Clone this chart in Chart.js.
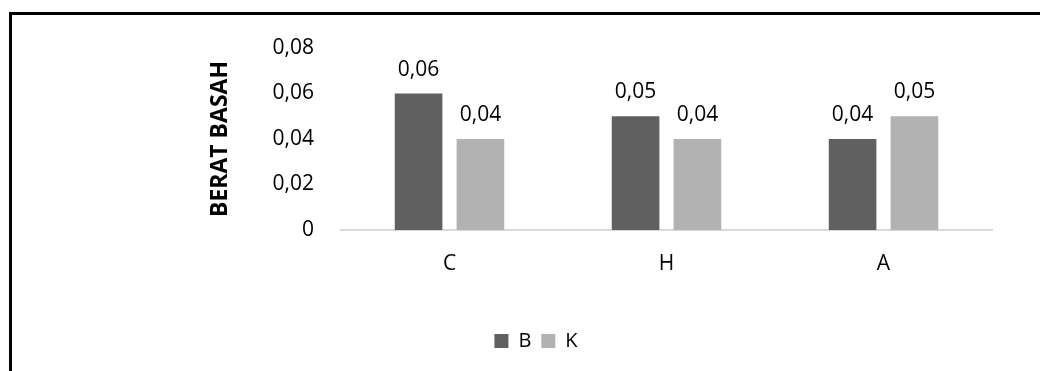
<!DOCTYPE html>
<html>
<head>
<meta charset="utf-8">
<script src="https://cdn.jsdelivr.net/npm/chart.js@4"></script>
<style>
    body { margin: 0; background: #fff; }
    #wrap { position: relative; width: 1040px; height: 371px; }
    #frame {
        position: absolute; left: 9px; top: 12px; right: 0; bottom: 0;
        border-top: 3px solid #000; border-left: 3px solid #000;
        pointer-events: none;
    }
    canvas { position: absolute; left: 0; top: 0; }
</style>
</head>
<body>
<div id="wrap">
    <canvas id="chart" width="1040" height="371"></canvas>
    <div id="frame"></div>
</div>
<script>
// Chart data
const categories = ['C', 'H', 'A'];
const valuesB = [0.06, 0.05, 0.04];
const valuesK = [0.04, 0.04, 0.05];
const yTicks = [0, 0.02, 0.04, 0.06, 0.08];

const fontFamily = "'Open Sans', sans-serif";

// Format numbers with a comma like the original
function fmt(v) {
    if (v === 0) return '0';
    return v.toFixed(2).replace('.', ',');
}

// Small plugin to draw value labels above the bars
const valueLabels = {
    id: 'valueLabels',
    afterDatasetsDraw(chart) {
        const ctx = chart.ctx;
        ctx.save();
        ctx.font = '21px ' + fontFamily;
        ctx.fillStyle = '#000';
        ctx.textAlign = 'center';
        ctx.textBaseline = 'alphabetic';
        chart.data.datasets.forEach((ds, i) => {
            chart.getDatasetMeta(i).data.forEach((bar, j) => {
                ctx.fillText(fmt(ds.data[j]), bar.x, bar.y - 18);
            });
        });
        ctx.restore();
    }
};

const ctx = document.getElementById('chart').getContext('2d');
new Chart(ctx, {
    type: 'bar',
    data: {
        labels: categories,
        datasets: [
            { label: 'B', data: valuesB, backgroundColor: '#606060' },
            { label: 'K', data: valuesK, backgroundColor: '#b2b2b2' }
        ]
    },
    options: {
        responsive: false,
        animation: false,
        datasets: {
            bar: { categoryPercentage: 0.57, barPercentage: 0.77 }
        },
        layout: {
            padding: { left: 80, right: 48, top: 48, bottom: 10 }
        },
        plugins: {
            tooltip: { enabled: false },
            legend: {
                position: 'bottom',
                labels: {
                    font: { family: fontFamily, size: 20 },
                    color: '#000',
                    boxWidth: 14,
                    boxHeight: 14,
                    padding: 10
                }
            }
        },
        scales: {
            x: {
                grid: { display: false, drawTicks: false },
                border: { display: true, color: '#d9d9d9', width: 2 },
                ticks: {
                    font: { family: fontFamily, size: 21 },
                    color: '#000',
                    padding: 21
                },
                afterFit(scale) { scale.height = 91; }
            },
            y: {
                min: 0,
                max: 0.08,
                afterBuildTicks(scale) {
                    scale.ticks = yTicks.map(v => ({ value: v }));
                },
                grid: { display: false, drawTicks: false },
                border: { display: false },
                ticks: {
                    font: { family: fontFamily, size: 21 },
                    color: '#000',
                    padding: 27,
                    callback: v => fmt(v)
                },
                title: {
                    display: true,
                    text: 'BERAT BASAH',
                    font: { family: fontFamily, size: 23, weight: 'bold' },
                    color: '#000',
                    padding: { top: 127, bottom: 0 }
                },
                afterFit(scale) { scale.width = 261; }
            }
        }
    },
    plugins: [valueLabels]
});
</script>
</body>
</html>
